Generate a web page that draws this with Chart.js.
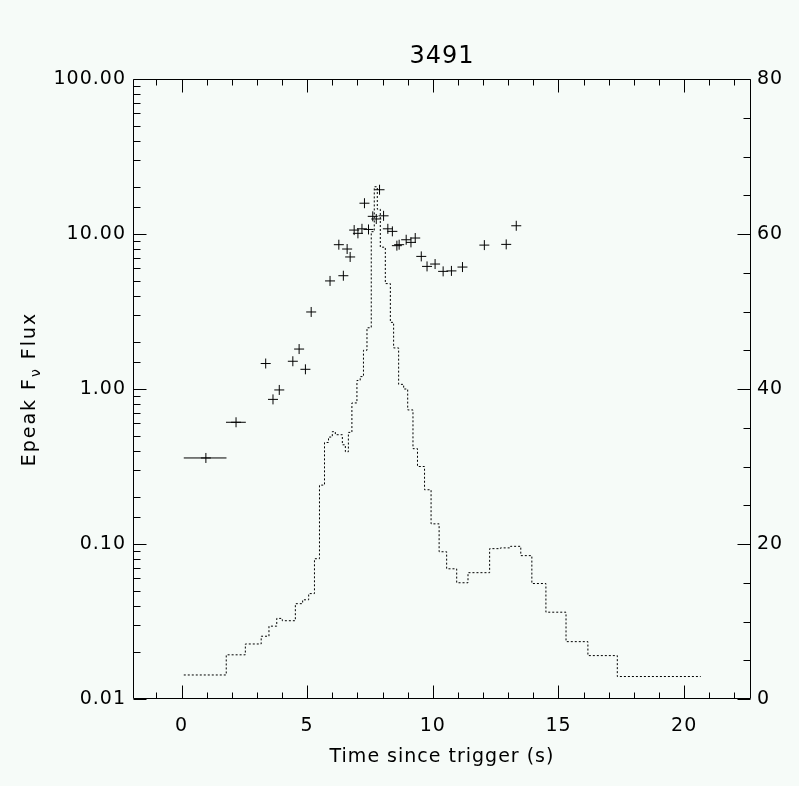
<!DOCTYPE html>
<html>
<head>
<meta charset="utf-8">
<script src="https://cdn.jsdelivr.net/npm/chart.js@4.4.1/dist/chart.umd.min.js"></script>
<style>
  html, body { margin: 0; padding: 0; background: #f6fbf8; }
  canvas { display: block; }
</style>
</head>
<body>
<canvas id="chart" width="799" height="786"></canvas>
<script>
// Epeak points (left log axis)
const epTime = [0.97, 2.17, 3.35, 3.64, 3.89, 4.43, 4.68, 4.93, 5.16, 5.91, 6.26, 6.44, 6.59, 6.71,
    6.87, 7.02, 7.18, 7.28, 7.44, 7.61, 7.75, 7.88, 8.04, 8.21, 8.39, 8.57, 8.66, 8.94, 9.13, 9.30,
    9.54, 9.77, 10.09, 10.41, 10.74, 11.18, 12.05, 12.92, 13.32];
const epValue = [0.359, 0.61, 1.46, 0.857, 0.986, 1.51, 1.81, 1.34, 3.14, 4.98, 8.53, 5.38, 8.0, 7.11,
    10.6, 10.1, 10.8, 15.8, 10.7, 13.0, 12.5, 19.3, 13.1, 10.8, 10.4, 8.41, 8.53, 9.18, 8.83, 9.42,
    7.17, 6.18, 6.4, 5.74, 5.78, 6.12, 8.48, 8.57, 11.3];

// horizontal time bars on the two early points
const barStart = [0.09, 1.77];
const barEnd = [1.79, 2.56];
const barValue = [0.359, 0.61];

// flux histogram (right axis): bin edges and counts
const binEdges = [0.09, 1.78, 2.54, 3.17, 3.48, 3.79, 4.01, 4.53, 4.82, 5.06, 5.29, 5.49, 5.69, 5.85,
    6.00, 6.12, 6.40, 6.52, 6.64, 6.78, 6.98, 7.11, 7.24, 7.38, 7.55, 7.67, 7.79, 7.91, 8.11, 8.31,
    8.44, 8.64, 8.84, 9.00, 9.21, 9.39, 9.67, 9.93, 10.25, 10.55, 10.95, 11.40, 12.26, 12.69, 13.09,
    13.50, 13.94, 14.50, 15.30, 16.17, 17.34, 20.66];
const binCounts = [3.1, 5.7, 7.1, 8.1, 9.4, 10.4, 10.1, 12.3, 12.8, 13.6, 18.1, 27.6, 33.1, 33.8,
    34.5, 34.1, 32.8, 31.9, 34.4, 38.2, 41.1, 41.6, 45.0, 47.9, 60.3, 66.1, 63.2, 58.3, 53.6, 48.6,
    45.3, 40.6, 40.0, 37.3, 32.3, 30.0, 27.0, 22.6, 19.0, 16.8, 15.0, 16.3, 19.4, 19.5, 19.7,
    18.5, 14.9, 11.2, 7.4, 5.6, 2.9];

const chartTitle = '3491';
const xLabel = 'Time since trigger (s)';
const xRange = [-1.93, 22.66];
const yLeftRange = [0.01, 100];
const yRightRange = [0, 80];

const font = { family: 'DejaVu Sans', size: 19 };
const ink = '#000';

const pointData = epTime.map((t, i) => ({ x: t, y: epValue[i] }));
const histData = binEdges.map((e, i) => ({ x: e, y: binCounts[Math.min(i, binCounts.length - 1)] }));
const barData = [];
barStart.forEach((s, i) => {
    barData.push({ x: s, y: barValue[i] });
    barData.push({ x: barEnd[i], y: barValue[i] });
    barData.push({ x: barEnd[i], y: null });
});

function isDecade(v) {
    const l = Math.log10(v);
    return Math.abs(l - Math.round(l)) < 1e-6;
}

// wider letter spacing, closer to the stroke font of the original
const spacingPlugin = {
    id: 'spacing',
    beforeDraw(chart) { chart.ctx.letterSpacing = '1px'; }
};

// frame, inward tick marks and the extra texts
const framePlugin = {
    id: 'frame',
    afterDraw(chart) {
        const ctx = chart.ctx;
        const a = chart.chartArea;
        const sx = chart.scales.x, sy = chart.scales.y, sr = chart.scales.y2;
        const L = a.left + 0.5, R = a.right - 0.5, T = a.top + 0.5, B = a.bottom - 0.5;
        ctx.save();
        ctx.strokeStyle = ink;
        ctx.lineWidth = 1;
        ctx.setLineDash([]);
        ctx.beginPath();
        ctx.rect(L, T, R - L, B - T);
        sx.ticks.forEach(t => {
            const p = Math.round(sx.getPixelForValue(t.value)) + 0.5;
            const len = t.value % 5 === 0 ? 13 : 6;
            ctx.moveTo(p, B); ctx.lineTo(p, B - len);
            ctx.moveTo(p, T); ctx.lineTo(p, T + len);
        });
        sy.ticks.forEach(t => {
            const p = Math.round(sy.getPixelForValue(t.value)) + 0.5;
            const len = isDecade(t.value) ? 13 : 7;
            ctx.moveTo(L, p); ctx.lineTo(L + len, p);
        });
        sr.ticks.forEach(t => {
            const p = Math.round(sr.getPixelForValue(t.value)) + 0.5;
            const len = t.value % 20 === 0 ? 13 : 7;
            ctx.moveTo(R, p); ctx.lineTo(R - len, p);
        });
        ctx.stroke();

        ctx.fillStyle = ink;
        ctx.letterSpacing = '1px';
        ctx.textAlign = 'center';
        ctx.textBaseline = 'middle';
        const cx = (a.left + a.right) / 2;
        ctx.font = '24px "DejaVu Sans"';
        ctx.fillText(chartTitle, cx, 57);
        ctx.font = '19px "DejaVu Sans"';
        ctx.fillText(xLabel, cx, 757);

        // y title with subscript nu
        ctx.translate(30, (a.top + a.bottom) / 2);
        ctx.rotate(-Math.PI / 2);
        ctx.textAlign = 'left';
        ctx.letterSpacing = '2px';
        const p1 = 'Epeak F', p2 = '\u03bd', p3 = ' Flux';
        ctx.font = '19px "DejaVu Sans"';
        const w1 = ctx.measureText(p1).width, w3 = ctx.measureText(p3).width;
        ctx.font = '14px "DejaVu Sans"';
        const w2 = ctx.measureText(p2).width;
        const x0 = -(w1 + w2 + w3) / 2;
        ctx.font = '19px "DejaVu Sans"';
        ctx.fillText(p1, x0, 0);
        ctx.font = '14px "DejaVu Sans"';
        ctx.fillText(p2, x0 + w1, 6);
        ctx.font = '19px "DejaVu Sans"';
        ctx.fillText(p3, x0 + w1 + w2, 0);
        ctx.restore();
    }
};

new Chart(document.getElementById('chart').getContext('2d'), {
    type: 'scatter',
    data: {
        datasets: [{
            data: pointData,
            yAxisID: 'y',
            pointStyle: 'cross',
            pointRadius: 5,
            borderColor: ink,
            borderWidth: 1,
            showLine: false
        }, {
            type: 'line',
            data: barData,
            yAxisID: 'y',
            borderColor: ink,
            borderWidth: 1,
            pointRadius: 0,
            spanGaps: false,
            fill: false
        }, {
            type: 'line',
            data: histData,
            yAxisID: 'y2',
            stepped: 'before',
            borderColor: ink,
            borderWidth: 1,
            borderDash: [2, 2],
            pointRadius: 0,
            fill: false
        }]
    },
    options: {
        responsive: false,
        animation: false,
        devicePixelRatio: 1,
        layout: { padding: { top: 79, left: 0, right: 0, bottom: 0 } },
        plugins: { legend: { display: false }, tooltip: { enabled: false } },
        scales: {
            x: {
                type: 'linear',
                position: 'bottom',
                min: xRange[0],
                max: xRange[1],
                grid: { display: false, drawTicks: false },
                border: { display: false },
                ticks: {
                    stepSize: 1,
                    autoSkip: false,
                    maxRotation: 0,
                    includeBounds: false,
                    padding: 16,
                    color: ink,
                    font: font,
                    callback: v => (v % 5 === 0 ? String(v) : '')
                },
                afterFit: s => { s.height = 87; }
            },
            y: {
                type: 'logarithmic',
                position: 'left',
                min: yLeftRange[0],
                max: yLeftRange[1],
                grid: { display: false, drawTicks: false },
                border: { display: false },
                ticks: {
                    autoSkip: false,
                    padding: 7,
                    color: ink,
                    font: font,
                    callback: v => (isDecade(v) ? Number(v).toFixed(2) : '')
                },
                afterFit: s => { s.width = 133; }
            },
            y2: {
                type: 'linear',
                position: 'right',
                min: yRightRange[0],
                max: yRightRange[1],
                grid: { display: false, drawTicks: false },
                border: { display: false },
                ticks: {
                    stepSize: 5,
                    autoSkip: false,
                    padding: 6,
                    color: ink,
                    font: font,
                    callback: v => (v % 20 === 0 ? String(v) : '')
                },
                afterFit: s => { s.width = 48; }
            }
        }
    },
    plugins: [spacingPlugin, framePlugin]
});
</script>
</body>
</html>
